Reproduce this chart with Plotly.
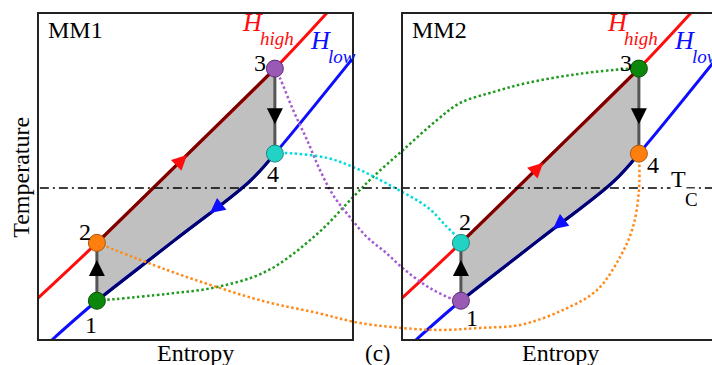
import plotly.graph_objects as go

# ---- layout of the two panels in entropy/temperature units ----
PANEL_SHIFT = 11.556          # offset of the MM2 panel along the entropy axis
PANEL_W, PANEL_H = 10.0, 10.0

# ---- isofield curves (same shape in both materials) ----
high_S = [0.0, 1.87, 4.73, 7.52, 9.17]
high_T = [1.28, 2.97, 5.66, 8.30, 10.0]
low_S = [0.44, 1.87, 4.35, 6.73, 7.52, 9.97]
low_T = [0.0, 1.20, 3.06, 4.86, 5.70, 8.59]

# ---- cycle states 1..4 ----
state_S = [1.87, 1.87, 7.52, 7.52]
state_T = [1.20, 2.97, 8.30, 5.70]
state_labels = ["1", "2", "3", "4"]

# colour of each state in MM1 and MM2
mm1_colors = ["green", "orange", "purple", "cyan"]
mm2_colors = ["purple", "cyan", "green", "orange"]

# Curie temperature
T_C = 4.65

# ---- heat-exchange paths between the two materials ----
green_S = [1.87, 4.10, 5.68, 7.27, 8.86, 10.0, 10.64, 11.59, 12.67, 13.40, 14.44, 15.52, 17.11, 18.64, 19.08]
green_T = [1.20, 1.41, 1.62, 2.11, 3.24, 4.37, 4.99, 5.81, 6.73, 7.25, 7.58, 7.86, 8.13, 8.29, 8.30]
orange_S = [1.87, 4.10, 5.68, 7.27, 8.86, 10.22, 11.90, 12.98, 14.03, 15.30, 16.67, 17.75, 18.48, 18.89, 19.08, 19.08]
orange_T = [2.97, 2.14, 1.62, 1.16, 0.83, 0.52, 0.34, 0.31, 0.37, 0.46, 0.92, 1.53, 2.54, 3.46, 4.60, 5.70]
purple_S = [7.52, 7.68, 8.10, 8.54, 8.95, 9.37, 9.90, 10.44, 11.02, 11.65, 12.44, 13.17, 13.43]
purple_T = [8.30, 8.01, 7.03, 6.12, 5.20, 4.43, 3.76, 3.15, 2.69, 2.14, 1.59, 1.25, 1.20]
cyan_S = [7.52, 7.78, 9.17, 10.22, 11.27, 12.35, 12.98, 13.33, 13.43]
cyan_T = [5.70, 5.72, 5.57, 5.20, 4.68, 4.07, 3.46, 3.12, 2.97]

FILL = {"green": "#0b870b", "orange": "#ff7f0e", "purple": "#9b59b6", "cyan": "#22d3c5"}
EDGE = {"green": "#065006", "orange": "#a9560c", "purple": "#5c2f74", "cyan": "#148a80"}
DOT = {"green": "#1f9a1f", "orange": "#ff8a1a", "purple": "#a55ad2", "cyan": "#00dcdc"}

SERIF = "Liberation Serif"

fig = go.Figure()


def shifted(xs, dx):
    return [x + dx for x in xs]


def on_curve(xs, ys, i0, i1):
    return xs[i0:i1 + 1], ys[i0:i1 + 1]


for k, dx in enumerate([0.0, PANEL_SHIFT]):
    # shaded cycle area: 1 -> 2 -> (H_high) -> 3 -> 4 -> (H_low) -> 1
    hs, ht = on_curve(high_S, high_T, 1, 3)
    ls, lt = on_curve(low_S, low_T, 1, 4)
    poly_S = [state_S[0]] + hs + [state_S[3]] + ls[::-1]
    poly_T = [state_T[0]] + ht + [state_T[3]] + lt[::-1]
    fig.add_trace(go.Scatter(x=shifted(poly_S, dx), y=poly_T, fill="toself",
                             fillcolor="#c0c0c0", line=dict(width=0),
                             mode="lines", hoverinfo="skip"))
    # isofield curves
    fig.add_trace(go.Scatter(x=shifted(high_S, dx), y=high_T, mode="lines",
                             line=dict(color="#ff0d0d", width=3, shape="spline")))
    fig.add_trace(go.Scatter(x=shifted(low_S, dx), y=low_T, mode="lines",
                             line=dict(color="#0d0dff", width=3, shape="spline")))
    # cycle branches on the curves
    fig.add_trace(go.Scatter(x=shifted(hs, dx), y=ht, mode="lines",
                             line=dict(color="#7a0000", width=3, shape="spline")))
    fig.add_trace(go.Scatter(x=shifted(ls, dx), y=lt, mode="lines",
                             line=dict(color="#00006e", width=3, shape="spline")))
    # adiabatic steps 1->2 and 3->4
    for a, b in [(0, 1), (2, 3)]:
        fig.add_trace(go.Scatter(x=shifted([state_S[a], state_S[b]], dx),
                                 y=[state_T[a], state_T[b]], mode="lines",
                                 line=dict(color="#555555", width=3)))

# heat-exchange paths
for name, xs, ys in [("green", green_S, green_T), ("orange", orange_S, orange_T),
                     ("purple", purple_S, purple_T), ("cyan", cyan_S, cyan_T)]:
    fig.add_trace(go.Scatter(x=xs, y=ys, mode="lines",
                             line=dict(color=DOT[name], width=2.5, dash="2.5px,2.5px",
                                       shape="spline", smoothing=1)))

# Curie temperature line
fig.add_trace(go.Scatter(x=[0.06, 21.4], y=[T_C, T_C], mode="lines",
                         line=dict(color="black", width=1.6, dash="9px,4px,2px,4px")))

# state markers
for dx, cols in [(0.0, mm1_colors), (PANEL_SHIFT, mm2_colors)]:
    fig.add_trace(go.Scatter(
        x=shifted(state_S, dx), y=state_T, mode="markers",
        marker=dict(size=17, color=[FILL[c] for c in cols],
                    line=dict(color=[EDGE[c] for c in cols], width=1))))

annotations = []


def arrow(xh, yh, xt, yt, color, scale=1.0):
    annotations.append(dict(x=xh, y=yh, ax=xt, ay=yt, xref="x", yref="y",
                            axref="x", ayref="y", text="", showarrow=True,
                            arrowhead=2, arrowsize=scale, arrowwidth=2,
                            arrowcolor=color, standoff=0, startstandoff=0))


def label(text, x, y, size, color="black", italic=False, angle=0, bg=None):
    if italic:
        text = "<i>" + text + "</i>"
    d = dict(x=x, y=y, xref="x", yref="y", text=text, showarrow=False,
             font=dict(family=SERIF, size=size, color=color),
             xanchor="center", yanchor="middle", textangle=angle)
    if bg:
        d.update(bgcolor=bg, borderpad=0)
    annotations.append(d)


# direction arrows on the cycle
arrow(4.73, 5.66, 4.43, 5.38, "#ff0d0d", 1.5)
arrow(5.46, 3.88, 5.76, 4.11, "#0d0dff", 1.5)
arrow(PANEL_SHIFT + 4.48, 5.42, PANEL_SHIFT + 4.18, 5.14, "#ff0d0d", 1.5)
arrow(PANEL_SHIFT + 4.79, 3.39, PANEL_SHIFT + 5.09, 3.62, "#0d0dff", 1.5)
for dx in [0.0, PANEL_SHIFT]:
    arrow(state_S[0] + dx, 2.45, state_S[0] + dx, 1.95, "black", 1.6)
    arrow(state_S[2] + dx, 6.60, state_S[2] + dx, 7.10, "black", 1.6)

# panel titles and curve names
for dx, title in [(0.0, "MM1"), (PANEL_SHIFT, "MM2")]:
    label(title, 1.175 + dx, 9.47, 24)
    label("H", 6.825 + dx, 9.70, 26, "#ff0d0d", italic=True)
    label("high", 7.59 + dx, 9.22, 19, "#ff0d0d", italic=True)
    label("H", 8.98 + dx, 9.15, 26, "#0d0dff", italic=True)
    label("low", 9.64 + dx, 8.66, 19, "#0d0dff", italic=True)

# state numbers
num_pos_mm1 = [(1.683, 0.46), (1.492, 3.30), (7.048, 8.47), (7.46, 5.08)]
num_pos_mm2 = [(13.778, 0.67), (13.556, 3.61), (18.667, 8.47), (19.524, 5.35)]
for pos in (num_pos_mm1, num_pos_mm2):
    for (x, y), t in zip(pos, state_labels):
        label(t, x, y, 24)

# T_C label
label("T", 20.34, 4.92, 24, bg="white")
label("C", 20.74, 4.30, 19, bg="white")

# axis titles and panel tag
label("Temperature", -0.55, 4.98, 24, angle=-90)
label("Entropy", 5.016, -0.40, 24)
label("Entropy", 16.60, -0.40, 24)
label("(c)", 10.794, -0.40, 23)

# panel frames
shapes = []
for dx in [0.0, PANEL_SHIFT]:
    shapes.append(dict(type="rect", xref="x", yref="y", x0=dx, x1=dx + PANEL_W,
                       y0=0, y1=PANEL_H, line=dict(color="#222222", width=2),
                       layer="above"))

fig.update_layout(
    width=712, height=365, margin=dict(l=0, r=0, t=0, b=0),
    paper_bgcolor="white", plot_bgcolor="white", showlegend=False,
    xaxis=dict(range=[-1.206, 21.397], visible=False, fixedrange=True),
    yaxis=dict(range=[-0.765, 10.398], visible=False, fixedrange=True),
    annotations=annotations, shapes=shapes,
)

fig.write_html("out.html")
